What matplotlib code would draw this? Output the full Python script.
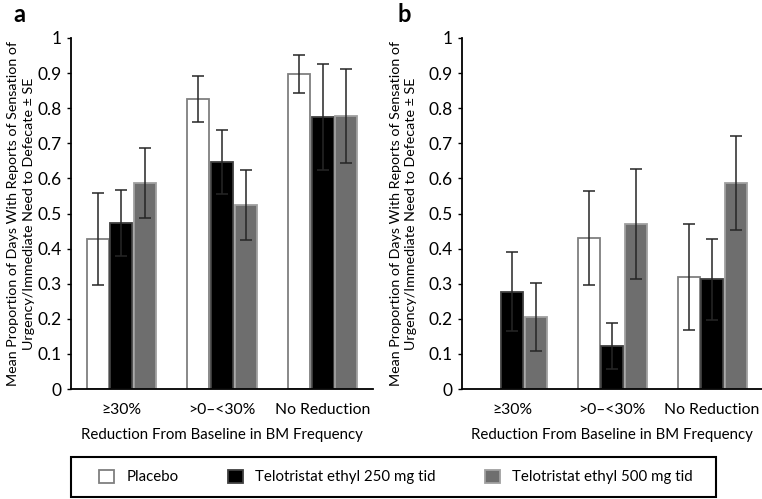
import matplotlib.pyplot as plt
import numpy as np
from matplotlib.patches import Rectangle, Patch

plt.rcParams['font.family'] = ['Lato', 'DejaVu Sans']

categories = ['≥30%', '>0–<30%', 'No Reduction']
series_names = ['Placebo', 'Telotristat ethyl 250 mg tid', 'Telotristat ethyl 500 mg tid']

# panel a: means and SE
a_placebo = [0.427, 0.826, 0.897]
a_placebo_se = [0.131, 0.065, 0.055]
a_250 = [0.473, 0.647, 0.775]
a_250_se = [0.095, 0.092, 0.150]
a_500 = [0.587, 0.524, 0.778]
a_500_se = [0.101, 0.100, 0.135]

# panel b: means and SE (no placebo bar in the first group)
b_placebo = [0.0, 0.430, 0.320]
b_placebo_se = [0.0, 0.135, 0.151]
b_250 = [0.277, 0.122, 0.313]
b_250_se = [0.113, 0.066, 0.115]
b_500 = [0.206, 0.470, 0.587]
b_500_se = [0.097, 0.158, 0.134]

fill_colors = ['white', 'black', '#6e6e6e']
edge_colors = ['#7f7f7f', '#404040', '#a0a0a0']

W, H = 762, 499
fig = plt.figure(figsize=(W / 100, H / 100), dpi=100)

def px_axes(x0, x1, y_top, y_bot):
    return fig.add_axes([x0 / W, (H - y_bot) / H, (x1 - x0) / W, (y_bot - y_top) / H])

ax_a = px_axes(71, 373, 38, 389)
ax_b = px_axes(462, 762, 38, 389)

def draw_panel(ax, series, errors, letter, label_x, letter_x):
    x = np.arange(len(categories))
    width = 0.22
    offsets = [-0.235, 0.0, 0.235]
    for i, (vals, errs) in enumerate(zip(series, errors)):
        vals = np.array(vals)
        errs = np.array(errs)
        mask = vals > 0
        ax.bar(x[mask] + offsets[i], vals[mask], width, color=fill_colors[i],
               edgecolor=edge_colors[i], linewidth=1.3, zorder=2)
        ax.errorbar(x[mask] + offsets[i], vals[mask], yerr=errs[mask], fmt='none',
                    ecolor='#262626', elinewidth=1.1, capsize=4, capthick=1.1, zorder=3)
    ax.set_xlim(-0.5, 2.5)
    ax.set_ylim(0, 1)
    ax.set_yticks(np.arange(0, 1.01, 0.1))
    ax.set_yticklabels(['0'] + [f'{v:.1f}' for v in np.arange(0.1, 0.95, 0.1)] + ['1'])
    ax.set_xticks(x)
    ax.set_xticklabels(categories)
    ax.tick_params(axis='y', direction='out', length=3, width=1, labelsize=12.5, pad=4)
    ax.tick_params(axis='x', length=0, labelsize=11.3, pad=10)
    for side in ['top', 'right']:
        ax.spines[side].set_visible(False)
    ax.spines['left'].set_linewidth(1.3)
    ax.spines['bottom'].set_linewidth(1.3)
    ax.set_xlabel('Reduction From Baseline in BM Frequency', fontsize=10.8, labelpad=8)
    ax.set_ylabel('Mean Proportion of Days With Reports of Sensation of\n'
                  'Urgency/Immediate Need to Defecate ± SE', fontsize=10.3, linespacing=1.35)
    ax.yaxis.set_label_coords(label_x, 0.5)
    ax.text(letter_x, 1.066, letter, transform=ax.transAxes, fontsize=17, fontweight='bold',
            ha='left', va='center')

draw_panel(ax_a, [a_placebo, a_250, a_500], [a_placebo_se, a_250_se, a_500_se], 'a', -0.12, -0.19)
draw_panel(ax_b, [b_placebo, b_250, b_500], [b_placebo_se, b_250_se, b_500_se], 'b', -0.15, -0.215)

# legend with border box across the bottom
handles = [Patch(facecolor=fill_colors[i], edgecolor=edge_colors[i], linewidth=1.3)
           for i in range(3)]
fig.legend(handles, series_names, loc='center', bbox_to_anchor=(396 / W, (H - 477) / H),
           ncol=3, frameon=False, fontsize=10.8, handlelength=1.0, handleheight=1.0,
           columnspacing=3.3, handletextpad=0.8)
fig.patches.append(Rectangle((71 / W, (H - 497) / H), 645 / W, 40 / H, transform=fig.transFigure,
                             fill=False, edgecolor='black', linewidth=1.5))

fig.savefig('out.png', dpi=100)
